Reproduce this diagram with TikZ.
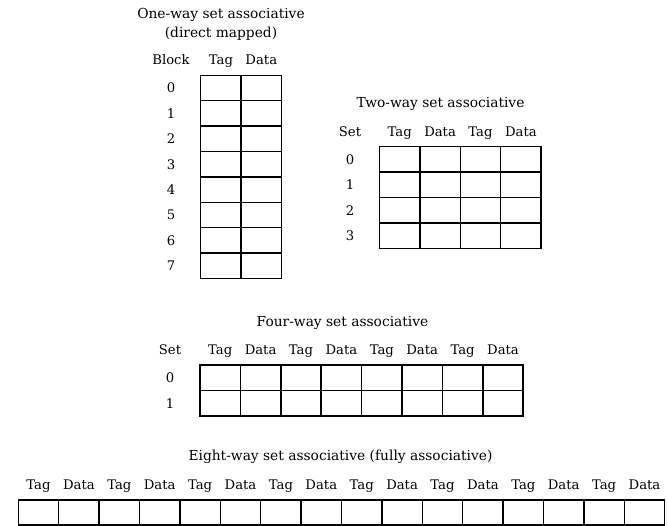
\documentclass[tikz,border=0pt]{standalone}
\usepackage{fontspec}
\setmainfont{DejaVu Serif}
\usepackage{tikz}
\usetikzlibrary{positioning}

\begin{document}
\begin{tikzpicture}[
  x=1pt, y=-1pt,
  cell/.style={rectangle, draw, line width=1.5pt, inner sep=0pt, outer sep=0pt,
               minimum width=40.4pt, minimum height=25.4pt},
  lbl/.style={inner sep=0pt, text height=9.8pt, text depth=0pt,
              font=\fontsize{13.2}{16}\selectfont},
  title/.style={lbl, font=\fontsize{13.8}{16}\selectfont}
]
\useasboundingbox (0,0) rectangle (668,526);

% one-way set associative (direct mapped)
\node[title] (onetitle) at (221,13.3) {One-way set associative};
\node[title] (onesub)   at (221,33)   {(direct mapped)};
\node[lbl] (oneblock) at (171,59.5) {Block};
\foreach \r in {0,...,7}{
  \node[lbl] (onerow-\r) at (171,{75.3+25.4*(\r+0.5)}) {\r};
  \foreach \c in {0,1}
    \node[cell] (one-\r-\c) at ({200.7+40.4*(\c+0.5)},{75.3+25.4*(\r+0.5)}) {};
}
\node[lbl] (onetag)  at (one-0-0 |- oneblock) {Tag};
\node[lbl] (onedata) at (one-0-1 |- oneblock) {Data};

% two-way set associative
\node[title] (twotitle) at (440.5,103) {Two-way set associative};
\node[lbl] (twoset) at (350,131.7) {Set};
\foreach \r in {0,...,3}{
  \node[lbl] (tworow-\r) at (350,{146.7+25.4*(\r+0.5)}) {\r};
  \foreach \c in {0,...,3}
    \node[cell] (two-\r-\c) at ({379.5+40.4*(\c+0.5)},{146.7+25.4*(\r+0.5)}) {};
}
\foreach \c in {0,...,3}
  \node[lbl] (twohead-\c) at (two-0-\c |- twoset) {\ifodd\c\relax Data\else Tag\fi};

% four-way set associative
\node[title] (fourtitle) at (342.5,321.7) {Four-way set associative};
\node[lbl] (fourset) at (170,350) {Set};
\foreach \r in {0,1}{
  \node[lbl] (fourrow-\r) at (170,{365+25.4*(\r+0.5)}) {\r};
  \foreach \c in {0,...,7}
    \node[cell] (four-\r-\c) at ({200+40.4*(\c+0.5)},{365+25.4*(\r+0.5)}) {};
}
\foreach \c in {0,...,7}
  \node[lbl] (fourhead-\c) at (four-0-\c |- fourset) {\ifodd\c\relax Data\else Tag\fi};

% eight-way set associative (fully associative)
\node[title] (eighttitle) at (340.5,455.5) {Eight-way set associative (fully associative)};
\foreach \c in {0,...,15}{
  \node[cell] (eight-\c) at ({18.3+40.4*(\c+0.5)},512.5) {};
  \node[lbl] (eighthead-\c) at ({18.3+40.4*(\c+0.5)},484.7) {\ifodd\c\relax Data\else Tag\fi};
}
\end{tikzpicture}
\end{document}
